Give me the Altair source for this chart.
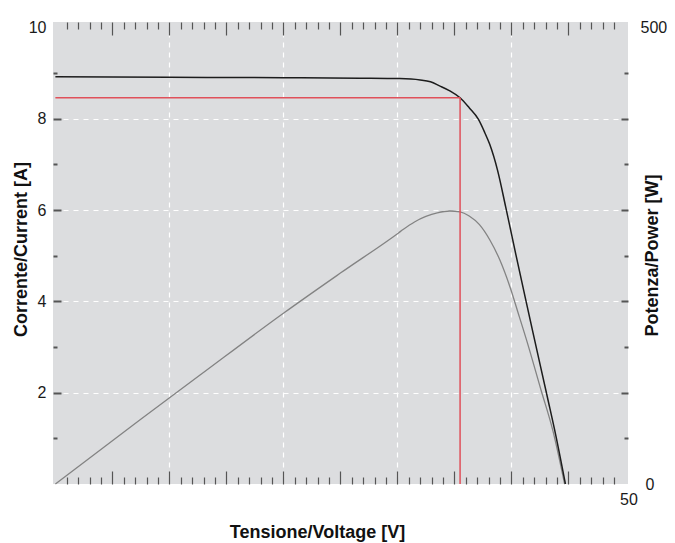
import altair as alt
import pandas as pd

# ---- data ----
volt_iv = [0, 10, 20, 26.7, 30.2, 32.0, 32.9, 33.7, 34.6, 35.5, 36.3, 37.1, 37.66, 38.1,
           38.8, 39.5, 40.4, 41.3, 41.9, 43.16, 43.9, 44.74]
curr_iv = [8.92, 8.91, 8.90, 8.89, 8.88, 8.85, 8.81, 8.72, 8.61, 8.46, 8.24, 7.99, 7.70, 7.44,
           6.86, 6.07, 5.02, 3.99, 3.31, 1.90, 1.06, 0]

volt_pv = [0, 7.4, 12.66, 20, 25, 30.1, 30.5, 31.5, 32.5, 33.5, 34.6, 35.5, 36.3, 37.2, 38.1,
           39.0, 39.9, 40.7, 41.3, 42.6, 43.65, 44.67]
power_pv = [0, 70, 119, 187, 231, 275, 278.7, 287, 293, 297, 299, 298, 293.5, 284, 267.5,
            245, 215, 183, 159, 103, 58, 0]

v_mpp = [35.5]
i_mpp = [8.46]

x_minor = [v for v in range(1, 50) if v % 5]
x_major = list(range(5, 50, 5))
x_grid = [10, 20, 30, 40]
x_label = [50]
y_labels = [2, 4, 6, 8, 10]
y_major = [2, 4, 6, 8]
y_minor = [1, 3, 5, 7, 9]
p_label_top = [500]
p_label_bottom = [0]
p_major = [100, 200, 300, 400]
p_minor = [50, 150, 250, 350, 450]

X_DOM = [-0.21, 50.23]
I_DOM = [0, 10.12]
P_DOM = [0, 506]

df_iv = pd.DataFrame({"V": volt_iv, "I": curr_iv})
df_pv = pd.DataFrame({"V": volt_pv, "P": power_pv})
df_mpp = pd.DataFrame({"v0": [0], "vmp": v_mpp, "imp": i_mpp, "i0": [0]})

TICK = "#555555"
FONT = "Liberation Sans"

xs = alt.Scale(domain=X_DOM, nice=False, zero=False)
ys_i = alt.Scale(domain=I_DOM, nice=False, zero=False)
ys_p = alt.Scale(domain=P_DOM, nice=False, zero=False)


def tick_axis(orient, values, size, width, grid=False):
    kw = dict(orient=orient, values=values, tickSize=size, offset=-size, tickWidth=width,
              tickColor=TICK, labels=False, domain=False, grid=grid, title=None, zindex=1)
    if grid:
        kw.update(gridColor="white", gridDash=[5, 5], gridWidth=1.2, zindex=0)
    return alt.Axis(**kw)


# left labels + title
ax_left_lab = alt.Axis(orient="left", values=y_labels, ticks=False, domain=False, grid=False,
                       labelPadding=7, title="Corrente/Current [A]", titleX=-32, titleY=227,
                       titleAngle=270, titleAlign="center", titleBaseline="middle")
# right top label + title
ax_right_lab = alt.Axis(orient="right", values=p_label_top, ticks=False, domain=False,
                        grid=False, labelPadding=12, title="Potenza/Power [W]", titleX=24,
                        titleY=233, titleAngle=270, titleAlign="center",
                        titleBaseline="middle")
# right bottom label
ax_right_zero = alt.Axis(orient="right", values=p_label_bottom, ticks=False, domain=False,
                         grid=False, labelPadding=17, title=None)
# x label 50 + title
ax_x_lab = alt.Axis(orient="bottom", values=x_label, ticks=False, domain=False, grid=False,
                    labelPadding=7, labelFlush=False, labelOffset=3,
                    title="Tensione/Voltage [V]", titleX=264, titleY=48,
                    titleAlign="center", titleBaseline="middle")
# x grid
ax_x_grid = alt.Axis(orient="bottom", values=x_grid, ticks=False, labels=False, domain=False,
                     grid=True, gridColor="white", gridDash=[5, 5], gridWidth=1.2,
                     title=None, zindex=0)

inv1 = alt.Chart(df_pv).mark_point(opacity=0).encode(
    x=alt.X("V:Q", scale=xs, axis=ax_x_grid),
    y=alt.Y("P:Q", scale=ys_p, axis=tick_axis("right", p_major, 7, 2)),
)
inv2 = alt.Chart(df_pv).mark_point(opacity=0).encode(
    x=alt.X("V:Q", scale=xs, axis=ax_x_lab),
    y=alt.Y("P:Q", scale=ys_p, axis=tick_axis("right", p_minor, 4, 2)),
)
inv3 = alt.Chart(df_pv).mark_point(opacity=0).encode(
    x=alt.X("V:Q", scale=xs, axis=None),
    y=alt.Y("P:Q", scale=ys_p, axis=ax_right_zero),
)
power_line = alt.Chart(df_pv).mark_line(color="#838383", strokeWidth=1.3,
                                        interpolate="monotone").encode(
    x=alt.X("V:Q", scale=xs, axis=tick_axis("bottom", x_major, 13, 1.2)),
    y=alt.Y("P:Q", scale=ys_p, axis=ax_right_lab),
)
current_line = alt.Chart(df_iv).mark_line(color="#1c1c1c", strokeWidth=1.5,
                                          interpolate="monotone").encode(
    x=alt.X("V:Q", scale=xs, axis=tick_axis("bottom", x_minor, 7, 1.2)),
    y=alt.Y("I:Q", scale=ys_i, axis=ax_left_lab),
)
red_h = alt.Chart(df_mpp).mark_rule(color="#e0505a", strokeWidth=1.5).encode(
    x=alt.X("v0:Q", scale=xs, axis=tick_axis("top", x_minor, 7, 1.2)),
    x2="vmp:Q",
    y=alt.Y("imp:Q", scale=ys_i, axis=tick_axis("left", y_major, 8, 2, grid=True)),
)
red_v = alt.Chart(df_mpp).mark_rule(color="#e0505a", strokeWidth=1.5).encode(
    x=alt.X("vmp:Q", scale=xs, axis=tick_axis("top", x_major, 13, 1.2)),
    y=alt.Y("i0:Q", scale=ys_i, axis=tick_axis("left", y_minor, 4, 2)),
    y2="imp:Q",
)

chart = alt.layer(inv1, inv2, inv3, power_line, current_line, red_h, red_v).resolve_scale(
    x="independent", y="independent"
).resolve_axis(
    x="independent", y="independent"
).properties(
    width=575, height=462,
    autosize=alt.AutoSizeParams(type="none"),
    padding={"left": 45, "top": 14, "right": 39, "bottom": 58},
).configure_view(
    fill="#dcdddf", strokeWidth=0
).configure_axis(
    labelFont=FONT, labelFontSize=16, labelColor="#1a1a1a",
    titleFont=FONT, titleFontSize=18, titleFontWeight="bold", titleColor="#111111",
    domain=False,
)

chart.save("out.html", embed_options={"renderer": "svg", "actions": False})
